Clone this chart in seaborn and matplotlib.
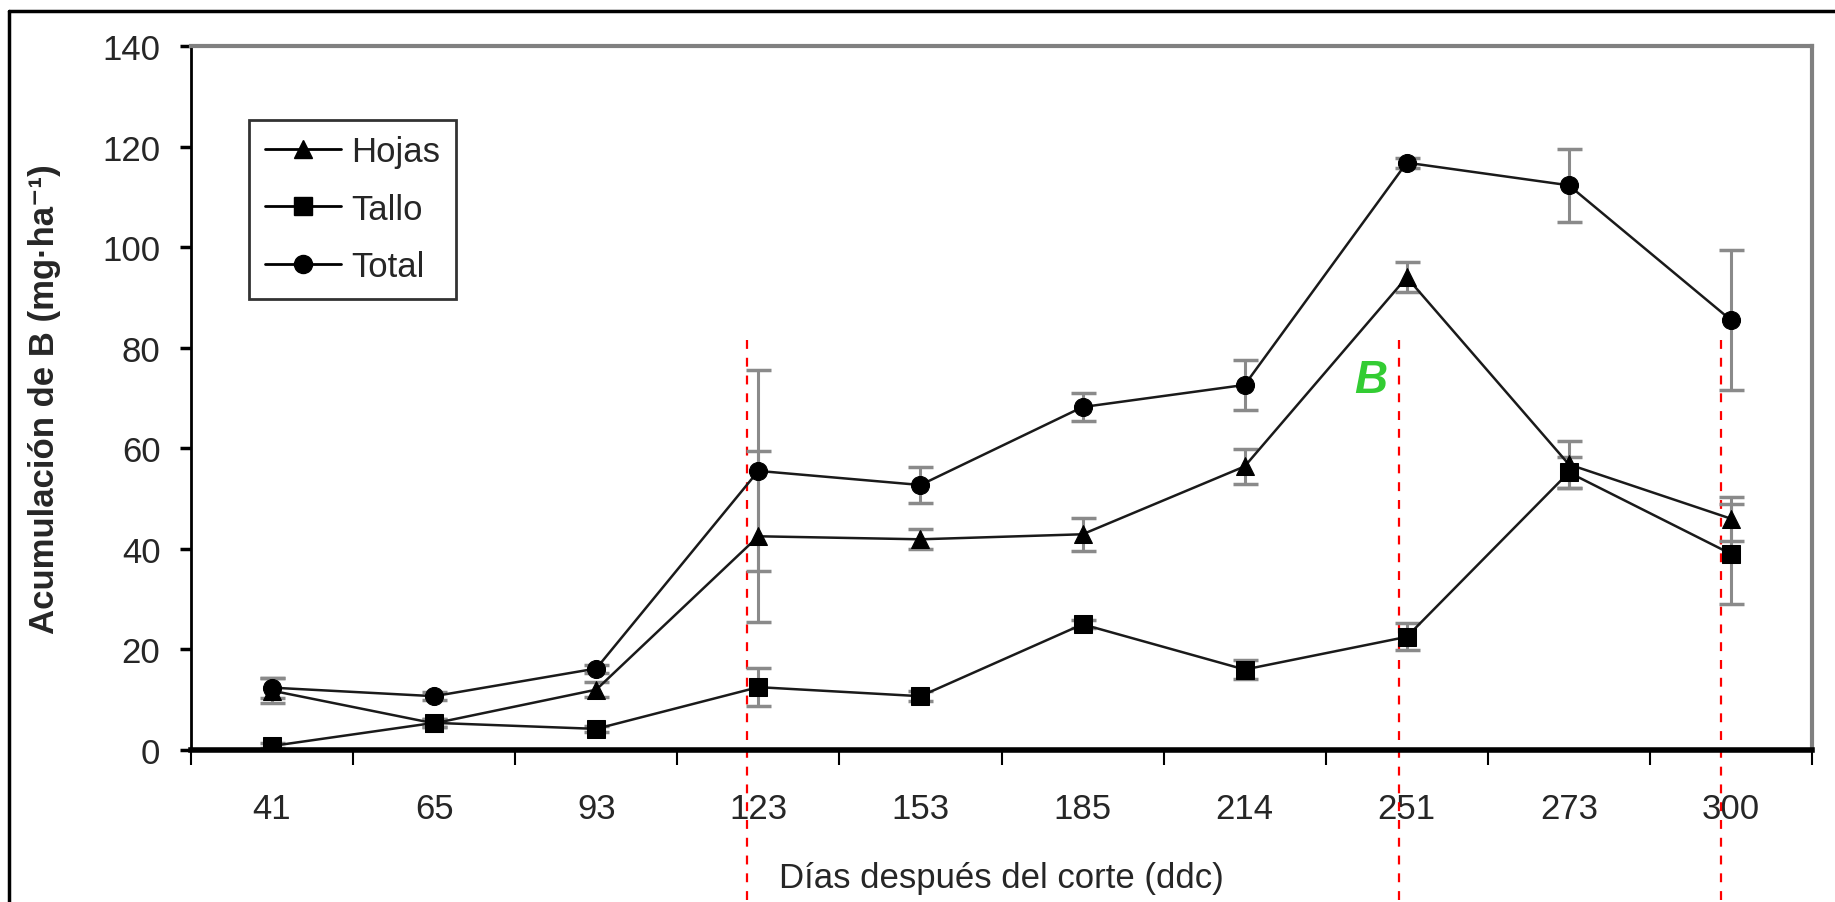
import numpy as np
import pandas as pd
import matplotlib
matplotlib.use("Agg")
import matplotlib.pyplot as plt
import seaborn as sns
from matplotlib.lines import Line2D

# days after cut (categorical x axis)
dias = ["41", "65", "93", "123", "153", "185", "214", "251", "273", "300"]

hojas = [11.8, 5.3, 12.0, 42.5, 41.9, 42.9, 56.4, 94.0, 56.8, 46.0]
hojas_err = [2.5, 0.8, 1.5, 17.0, 2.0, 3.3, 3.5, 3.0, 4.6, 4.4]

tallo = [0.8, 5.4, 4.2, 12.5, 10.7, 25.0, 16.0, 22.5, 55.2, 39.0]
tallo_err = [0.5, 0.8, 0.6, 3.8, 1.0, 0.8, 1.8, 2.7, 3.0, 10.0]

total = [12.4, 10.7, 16.2, 55.5, 52.7, 68.2, 72.6, 116.8, 112.3, 85.5]
total_err = [2.0, 0.8, 0.8, 20.0, 3.6, 2.8, 4.9, 1.0, 7.3, 14.0]

series = ["Hojas", "Tallo", "Total"]
markers = {"Hojas": "^", "Tallo": "s", "Total": "o"}

# red dashed marks (x in category units, top value)
marcas_x = [2.93, 6.95, 8.94]
marcas_top = 81.5

pos = np.arange(len(dias))
df = pd.DataFrame({
    "pos": np.tile(pos, 3),
    "valor": hojas + tallo + total,
    "serie": np.repeat(series, len(dias)),
})

sns.set_style("white")
plt.rcParams["font.family"] = ["Liberation Sans", "DejaVu Sans"]

fig = plt.figure(figsize=(18.35, 9.03), dpi=100)
ax = fig.add_axes([191 / 1835, 152 / 903, 1621 / 1835, 704 / 903])

# error bars first so markers sit on top
for vals, errs in [(hojas, hojas_err), (tallo, tallo_err), (total, total_err)]:
    ax.errorbar(pos, vals, yerr=errs, fmt="none", ecolor="#8a8a8a",
                elinewidth=2.2, capsize=9, capthick=2.5, zorder=2)

sns.lineplot(data=df, x="pos", y="valor", style="serie", markers=markers,
             dashes=False, color="#1a1a1a", linewidth=1.8, markersize=13,
             markeredgecolor="black", markerfacecolor="black",
             ax=ax, zorder=3, sort=False)

ax.set_xlim(-0.5, len(dias) - 0.5)
ax.set_ylim(0, 140)
ax.set_yticks(np.arange(0, 141, 20))
ax.set_xticks(pos)
ax.set_xticklabels(dias)
ax.set_xticks(np.arange(-0.5, len(dias), 1.0), minor=True)
ax.tick_params(axis="x", which="major", length=0, pad=30, labelsize=25)
ax.tick_params(axis="x", which="minor", direction="out", length=11,
               width=1.5, color="black", bottom=True)
ax.tick_params(axis="y", direction="out", length=8, width=2.5,
               color="black", pad=14, labelsize=25, left=True)

for s in ["top", "right"]:
    ax.spines[s].set_color("#808080")
    ax.spines[s].set_linewidth(3)
ax.spines["left"].set_color("black")
ax.spines["left"].set_linewidth(2)
ax.spines["bottom"].set_color("black")
ax.spines["bottom"].set_linewidth(4)

ax.set_xlabel("Días después del corte (ddc)", fontsize=25, labelpad=26)
ax.set_ylabel("Acumulación de B (mg·ha⁻¹)", fontsize=25, fontweight="bold")
ax.yaxis.set_label_coords(-0.080, 0.5)

for xm in marcas_x:
    ax.plot([xm, xm], [marcas_top, -40], color="red", linestyle=(0, (4, 4)),
            linewidth=1.6, clip_on=False, zorder=1)

ax.text(6.78, 73.5, "B", color="#33cc33", fontsize=33, fontweight="bold",
        fontstyle="italic", ha="center", va="center")

handles = [Line2D([], [], color="black", linewidth=2, marker=markers[s],
                  markersize=13, markerfacecolor="black") for s in series]
leg = ax.legend(handles, series, loc="upper left",
                bbox_to_anchor=(0.025, 0.92), fontsize=25, frameon=True,
                fancybox=False, edgecolor="black", handlelength=2.2,
                labelspacing=0.7, borderpad=0.45, handletextpad=0.3)
leg.get_frame().set_linewidth(2)

# outer frame of the original figure
fig.add_artist(Line2D([9 / 1835, 9 / 1835], [0, 1 - 12 / 903],
                      color="black", linewidth=2.5, transform=fig.transFigure))
fig.add_artist(Line2D([9 / 1835, 1], [1 - 12 / 903, 1 - 12 / 903],
                      color="black", linewidth=2.5, transform=fig.transFigure))

fig.savefig("out.png", dpi=100)
